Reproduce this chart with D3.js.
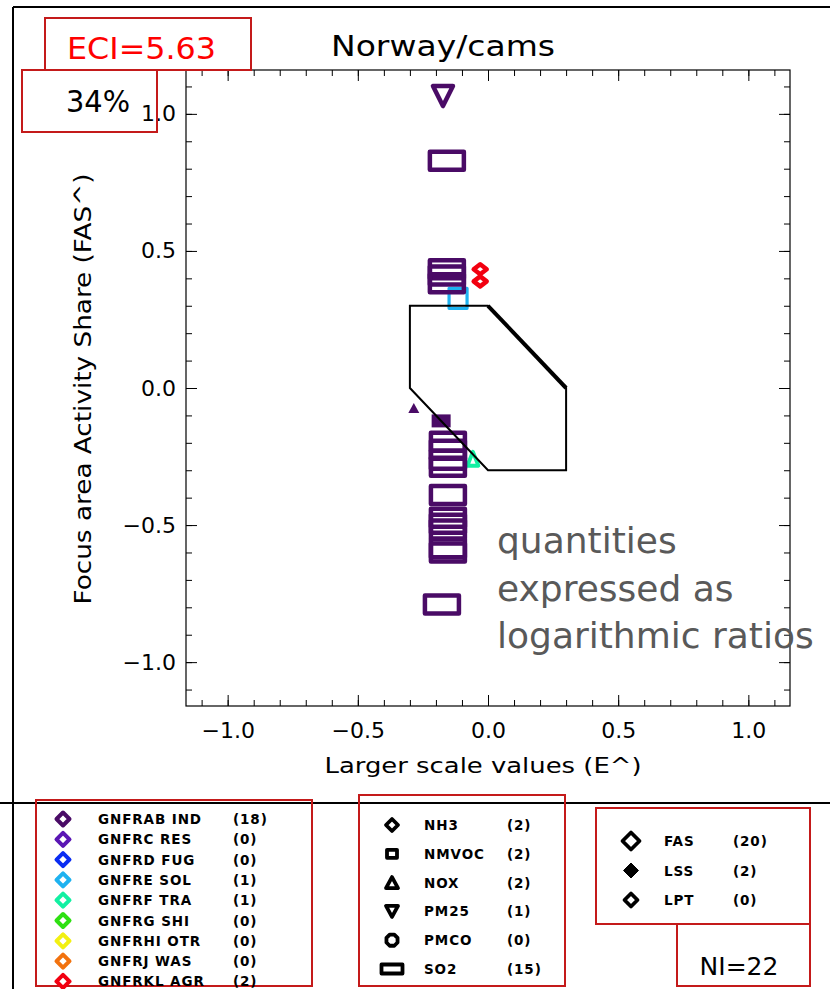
<!DOCTYPE html>
<html>
<head>
<meta charset="utf-8">
<script src="https://cdn.jsdelivr.net/npm/d3@7/dist/d3.min.js"></script>
<style>
  body { margin: 0; background: #fff; }
  svg { display: block; }
  text { font-family: "DejaVu Sans", sans-serif; }
</style>
</head>
<body>
<script>
// ---------------- DATA ----------------
const title = "Norway/cams";
const eciLabel = "ECI=5.63";
const shareLabel = "34%";
const niLabel = "NI=22";
const xTickValues = [-1.0, -0.5, 0.0, 0.5, 1.0];
const yTickValues = [-1.0, -0.5, 0.0, 0.5, 1.0];

const sectors = ["GNFRAB IND", "GNFRC RES", "GNFRD FUG", "GNFRE SOL", "GNFRF TRA",
                 "GNFRG SHI", "GNFRHI OTR", "GNFRJ WAS", "GNFRKL AGR"];
const sectorCounts = [18, 0, 0, 1, 1, 0, 0, 0, 2];

const pollutants = ["NH3", "NMVOC", "NOX", "PM25", "PMCO", "SO2"];
const pollutantCounts = [2, 2, 2, 1, 0, 15];

const types = ["FAS", "LSS", "LPT"];
const typeCounts = [20, 2, 0];

// target polygon (logarithmic ratios)
const polyX = [-0.3, 0.0, 0.3, 0.3, 0.0, -0.3];
const polyY = [0.3, 0.3, 0.0, -0.3, -0.3, 0.0];

// points
const pointX = [-0.115, -0.03, -0.03, -0.058,
                -0.173, -0.158, -0.158, -0.158, -0.158,
                -0.285, -0.18,
                -0.154, -0.154, -0.154, -0.154, -0.154, -0.154, -0.154, -0.154, -0.154, -0.154, -0.177];
const pointY = [0.327, 0.433, 0.389, -0.258,
                1.065, 0.829, 0.433, 0.41, 0.382,
                -0.073, -0.12,
                -0.196, -0.225, -0.262, -0.287, -0.39, -0.473, -0.495, -0.516, -0.585, -0.60, -0.79];
const pointSector = ["GNFRE SOL", "GNFRKL AGR", "GNFRKL AGR", "GNFRF TRA",
                     "GNFRAB IND", "GNFRAB IND", "GNFRAB IND", "GNFRAB IND", "GNFRAB IND",
                     "GNFRAB IND", "GNFRAB IND",
                     "GNFRAB IND", "GNFRAB IND", "GNFRAB IND", "GNFRAB IND", "GNFRAB IND", "GNFRAB IND",
                     "GNFRAB IND", "GNFRAB IND", "GNFRAB IND", "GNFRAB IND", "GNFRAB IND"];
const pointPollutant = ["NMVOC", "NH3", "NH3", "NOX",
                        "PM25", "SO2", "SO2", "SO2", "SO2",
                        "NOX", "NMVOC",
                        "SO2", "SO2", "SO2", "SO2", "SO2", "SO2", "SO2", "SO2", "SO2", "SO2", "SO2"];
const pointType = ["FAS", "FAS", "FAS", "FAS",
                   "FAS", "FAS", "FAS", "FAS", "FAS",
                   "LSS", "LSS",
                   "FAS", "FAS", "FAS", "FAS", "FAS", "FAS", "FAS", "FAS", "FAS", "FAS", "FAS"];

// ---------------- STYLE ----------------
const sectorColor = d3.scaleOrdinal().domain(sectors)
  .range(["#4a0b66", "#5a16b4", "#0a2cf2", "#1eb2f0", "#12f0a2", "#2ee012", "#f2f012", "#f2720e", "#f20010"]);

const W = 830, H = 989;
const svg = d3.select("body").append("svg").attr("width", W).attr("height", H);
svg.append("rect").attr("width", W).attr("height", H).attr("fill", "#fff");

const x = d3.scaleLinear().domain([-1.16, 1.16]).range([186, 790]);
const y = d3.scaleLinear().domain([-1.16, 1.16]).range([706, 70]);

// outer frame lines
svg.append("line").attr("x1", 13).attr("x2", 13).attr("y1", 7).attr("y2", H).attr("stroke", "#000").attr("stroke-width", 2);
svg.append("line").attr("x1", 13).attr("x2", W).attr("y1", 7).attr("y2", 7).attr("stroke", "#000").attr("stroke-width", 2);
svg.append("line").attr("x1", 0).attr("x2", W).attr("y1", 803).attr("y2", 803).attr("stroke", "#000").attr("stroke-width", 2);

// ---------------- AXES ----------------
const fmt = d3.format(".1f");
const minorVals = d3.range(-11, 12).map(i => i / 10);

function styleAxis(g) {
  g.select(".domain").remove();
  g.selectAll("line").attr("stroke", "#000").attr("stroke-width", 1);
  g.selectAll("text").attr("font-size", 22).attr("fill", "#000").attr("font-family", "DejaVu Sans");
}

// bottom
svg.append("g").attr("transform", "translate(0,706)")
  .call(d3.axisBottom(x).tickValues(xTickValues).tickSize(-11).tickSizeOuter(0).tickPadding(16).tickFormat(fmt))
  .call(styleAxis);
svg.append("g").attr("transform", "translate(0,706)")
  .call(d3.axisBottom(x).tickValues(minorVals).tickSize(-6).tickSizeOuter(0).tickFormat(""))
  .call(styleAxis);
// top
svg.append("g").attr("transform", "translate(0,70)")
  .call(d3.axisTop(x).tickValues(xTickValues).tickSize(-11).tickSizeOuter(0).tickFormat(""))
  .call(styleAxis);
svg.append("g").attr("transform", "translate(0,70)")
  .call(d3.axisTop(x).tickValues(minorVals).tickSize(-6).tickSizeOuter(0).tickFormat(""))
  .call(styleAxis);
// left
svg.append("g").attr("transform", "translate(186,0)")
  .call(d3.axisLeft(y).tickValues(yTickValues).tickSize(-11).tickSizeOuter(0).tickPadding(10).tickFormat(fmt))
  .call(styleAxis);
svg.append("g").attr("transform", "translate(186,0)")
  .call(d3.axisLeft(y).tickValues(minorVals).tickSize(-6).tickSizeOuter(0).tickFormat(""))
  .call(styleAxis);
// right
svg.append("g").attr("transform", "translate(790,0)")
  .call(d3.axisRight(y).tickValues(yTickValues).tickSize(-11).tickSizeOuter(0).tickFormat(""))
  .call(styleAxis);
svg.append("g").attr("transform", "translate(790,0)")
  .call(d3.axisRight(y).tickValues(minorVals).tickSize(-6).tickSizeOuter(0).tickFormat(""))
  .call(styleAxis);

// plot frame
svg.append("rect").attr("x", x(-1.16)).attr("y", y(1.16))
  .attr("width", x(1.16) - x(-1.16)).attr("height", y(-1.16) - y(1.16))
  .attr("fill", "none").attr("stroke", "#000").attr("stroke-width", 1.2);

// axis titles
svg.append("text").attr("x", 483).attr("y", 773).attr("text-anchor", "middle")
  .attr("font-size", 22).attr("textLength", 317).attr("lengthAdjust", "spacingAndGlyphs")
  .text("Larger scale values (E^)");
svg.append("text").attr("transform", "translate(91,389) rotate(-90)").attr("text-anchor", "middle")
  .attr("font-size", 23).attr("textLength", 431).attr("lengthAdjust", "spacingAndGlyphs")
  .text("Focus area Activity Share (FAS^)");

// title
svg.append("text").attr("x", 443).attr("y", 56).attr("text-anchor", "middle")
  .attr("font-size", 28).attr("textLength", 224).attr("lengthAdjust", "spacingAndGlyphs")
  .text(title);

// ---------------- SYMBOLS ----------------
function symPath(kind, w, h) {
  const a = w / 2, b = h / 2;
  switch (kind) {
    case "diamond": return `M0,${-b}L${a},0L0,${b}L${-a},0Z`;
    case "rect": return `M${-a},${-b}H${a}V${b}H${-a}Z`;
    case "up": return `M0,${-b}L${a},${b}L${-a},${b}Z`;
    case "down": return `M${-a},${-b}L${a},${-b}L0,${b}Z`;
    case "octagon": {
      const pts = d3.range(8).map(i => {
        const t = Math.PI / 8 + i * Math.PI / 4;
        return [a * Math.cos(t), b * Math.sin(t)];
      });
      return "M" + pts.map(p => p.join(",")).join("L") + "Z";
    }
  }
}
// plot-marker shapes per pollutant: [kind, w, h, strokeWidth]
const plotShape = {
  "NH3":   ["diamond", 13, 10, 4.5],
  "NMVOC": ["rect", 18, 20, 3.2],
  "NOX":   ["up", 11, 14, 3.8],
  "PM25":  ["down", 20, 20, 4.5],
  "PMCO":  ["octagon", 12, 12, 4],
  "SO2":   ["rect", 34, 18, 4.5]
};
const lssShape = {
  "NOX":   ["up", 11, 10],
  "NMVOC": ["rect", 19, 13]
};

// ---------------- POINTS ----------------
const pts = pointX.map((v, i) => ({x: v, y: pointY[i], s: pointSector[i], p: pointPollutant[i], t: pointType[i]}));
const gp = svg.append("g");
pts.forEach(d => {
  const col = sectorColor(d.s);
  if (d.t === "LSS") {
    const sh = lssShape[d.p];
    gp.append("path").attr("transform", `translate(${x(d.x)},${y(d.y)})`)
      .attr("d", symPath(sh[0], sh[1], sh[2])).attr("fill", col).attr("stroke", "none");
  } else {
    const sh = plotShape[d.p];
    gp.append("path").attr("transform", `translate(${x(d.x)},${y(d.y)})`)
      .attr("d", symPath(sh[0], sh[1], sh[2])).attr("fill", "none")
      .attr("stroke", col).attr("stroke-width", sh[3]).attr("stroke-linejoin", "round");
  }
});

// polygon
const polyPts = polyX.map((v, i) => [x(v), y(polyY[i])]);
svg.append("path").attr("d", "M" + polyPts.map(p => p.join(",")).join("L") + "Z")
  .attr("fill", "none").attr("stroke", "#000").attr("stroke-width", 2);
svg.append("line").attr("x1", polyPts[1][0]).attr("y1", polyPts[1][1])
  .attr("x2", polyPts[2][0]).attr("y2", polyPts[2][1])
  .attr("stroke", "#000").attr("stroke-width", 4);

// annotation
const note = svg.append("text").attr("font-family", "Liberation Sans, Arial, sans-serif")
  .attr("font-size", 36).attr("fill", "#595959");
["quantities", "expressed as", "logarithmic ratios"].forEach((t, i) => {
  note.append("tspan").attr("x", 497).attr("y", 553 + i * 47.5).text(t);
});

// ---------------- LABEL BOXES ----------------
const red = "#c41a1a";
function box(x0, y0, x1, y1) {
  svg.append("rect").attr("x", x0).attr("y", y0).attr("width", x1 - x0).attr("height", y1 - y0)
    .attr("fill", "none").attr("stroke", red).attr("stroke-width", 2);
}
box(45, 18, 251, 70);
svg.append("text").attr("x", 67).attr("y", 59).attr("font-size", 31).attr("fill", "#ff0000")
  .attr("textLength", 149).attr("lengthAdjust", "spacingAndGlyphs").text(eciLabel);
box(22, 70, 157, 132);
svg.append("text").attr("x", 66).attr("y", 112).attr("font-size", 30).attr("fill", "#000")
  .attr("textLength", 64).attr("lengthAdjust", "spacingAndGlyphs").text(shareLabel);

// ---------------- LEGENDS ----------------
const legFont = 13.5, legSpacing = 0.9, legWeight = "bold";
function legText(xx, yy, t) {
  svg.append("text").attr("x", xx).attr("y", yy).attr("font-size", legFont)
    .attr("font-weight", legWeight).attr("letter-spacing", legSpacing).text(t);
}
// sectors
box(36, 800, 312, 986);
sectors.forEach((s, i) => {
  const cy = 819 + i * 20.3;
  svg.append("path").attr("transform", `translate(63,${cy})`).attr("d", symPath("diamond", 13, 13))
    .attr("fill", "none").attr("stroke", sectorColor(s)).attr("stroke-width", 4).attr("stroke-linejoin", "round");
  legText(98, cy + 5, s);
  legText(233, cy + 5, `(${sectorCounts[i]})`);
});
// pollutants
box(359, 795, 565, 986);
const legShape = {
  "NH3": ["diamond", 12, 12], "NMVOC": ["rect", 10, 8], "NOX": ["up", 12, 11],
  "PM25": ["down", 12, 11], "PMCO": ["octagon", 12, 12], "SO2": ["rect", 21, 9]
};
pollutants.forEach((p, i) => {
  const cy = 825 + i * 28.8;
  const sh = legShape[p];
  svg.append("path").attr("transform", `translate(392,${cy})`).attr("d", symPath(sh[0], sh[1], sh[2]))
    .attr("fill", "none").attr("stroke", "#000").attr("stroke-width", 3.8).attr("stroke-linejoin", "round");
  legText(424, cy + 5, p);
  legText(507, cy + 5, `(${pollutantCounts[i]})`);
});
// types
box(596, 808, 810, 924);
const typeShape = {"FAS": [17, false], "LSS": [15, true], "LPT": [13, false]};
types.forEach((t, i) => {
  const cy = 841 + i * 29.5;
  const sh = typeShape[t];
  svg.append("path").attr("transform", `translate(631,${cy})`).attr("d", symPath("diamond", sh[0], sh[0]))
    .attr("fill", sh[1] ? "#000" : "none").attr("stroke", "#000").attr("stroke-width", sh[1] ? 1 : 3.8)
    .attr("stroke-linejoin", "round");
  legText(664, cy + 5, t);
  legText(733, cy + 5, `(${typeCounts[i]})`);
});
box(677, 924, 810, 986);
svg.append("text").attr("x", 739).attr("y", 975).attr("text-anchor", "middle").attr("font-size", 25).text(niLabel);
</script>
</body>
</html>
